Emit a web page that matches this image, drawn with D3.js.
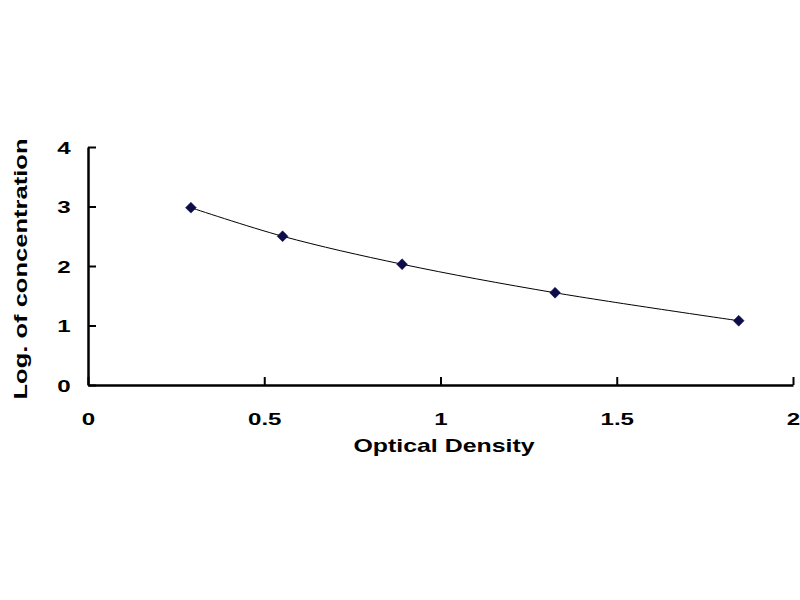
<!DOCTYPE html>
<html><head><meta charset="utf-8">
<script src="https://cdn.jsdelivr.net/npm/d3@7"></script>
<style>body{margin:0;background:#fff}</style>
</head><body>
<svg id="c" width="800" height="600"></svg>
<script>
const odValues = [0.292, 0.552, 0.891, 1.325, 1.846];
const logConc = [2.98, 2.50, 2.03, 1.55, 1.08];
const xTicks = [0, 0.5, 1, 1.5, 2];
const yTicks = [0, 1, 2, 3, 4];
const xTitle = "Optical Density";
const yTitle = "Log. of concentration";

const svg = d3.select("#c");
const x = d3.scaleLinear().domain([0, 2]).range([88, 793]);
const y = d3.scaleLinear().domain([0, 4]).range([385, 147]);
const font = "'Liberation Sans', Arial, sans-serif";

const xa = svg.append("g").attr("transform", `translate(0,${y(0)})`)
  .call(d3.axisBottom(x).tickValues(xTicks).tickFormat(d3.format("~g")).tickSizeInner(-8).tickSizeOuter(0));
const ya = svg.append("g").attr("transform", `translate(${x(0)},0)`)
  .call(d3.axisLeft(y).tickValues(yTicks).tickFormat(d3.format("d")).tickSizeInner(-8).tickSizeOuter(0));
[xa, ya].forEach(a => {
  a.attr("font-family", null).attr("font-size", null);
  a.select(".domain").attr("stroke", "#000").attr("stroke-width", 2.5);
  a.selectAll(".tick line").attr("stroke", "#000").attr("stroke-width", 2);
  a.selectAll(".tick text").attr("font-family", font).attr("font-weight", "bold").attr("font-size", 17).attr("fill", "#000");
});
xa.selectAll(".tick text").attr("x", 0).attr("y", 0).attr("dy", 0)
  .attr("text-anchor", "middle").attr("transform", "translate(0,40) scale(1.42,1)");
ya.selectAll(".tick text").attr("x", 0).attr("dy", "0.36em")
  .attr("text-anchor", "middle").attr("transform", "translate(-24,0) scale(1.42,1)");

const data = odValues.map((v, i) => [v, logConc[i]]);
svg.append("path").datum(data)
  .attr("d", d3.line().x(d => x(d[0])).y(d => y(d[1])).curve(d3.curveCatmullRom))
  .attr("fill", "none").attr("stroke", "#000").attr("stroke-width", 1);

svg.selectAll(".pt").data(data).enter().append("path")
  .attr("transform", d => `translate(${x(d[0])},${y(d[1])})`)
  .attr("d", d3.symbol(d3.symbolDiamond2, 75)())
  .attr("fill", "#0d0d4a").attr("stroke", "#0d0d4a").attr("stroke-width", 0.5);

svg.append("text").attr("transform", "translate(444,452) scale(1.31,1)").attr("text-anchor", "middle")
  .attr("font-family", font).attr("font-weight", "bold").attr("font-size", 19).text(xTitle);
svg.append("text").attr("transform", "translate(27,269) rotate(-90) scale(1.345,1)").attr("text-anchor", "middle")
  .attr("font-family", font).attr("font-weight", "bold").attr("font-size", 19).text(yTitle);
</script>
</body></html>
